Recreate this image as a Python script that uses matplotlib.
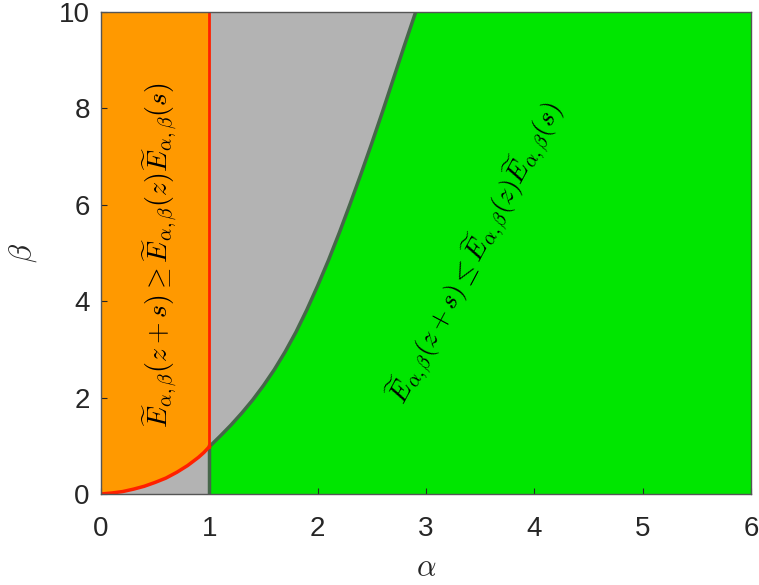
import numpy as np
import matplotlib
matplotlib.use('Agg')
import matplotlib.pyplot as plt

plt.rcParams['mathtext.fontset'] = 'cm'
plt.rcParams['font.family'] = ['Liberation Sans', 'DejaVu Sans']

# curva roja (alpha < 1)
red_a = [0.0, 0.1, 0.2, 0.3, 0.4, 0.5, 0.6, 0.7, 0.8, 0.9, 0.95, 1.0]
red_b = [0.0, 0.02, 0.05, 0.10, 0.16, 0.24, 0.33, 0.45, 0.59, 0.76, 0.86, 0.98]

# frontera de la region verde (alpha > 1)
bnd_a = [1.0, 1.1, 1.2, 1.3, 1.4, 1.5, 1.6, 1.7, 1.8, 1.9, 2.0,
         2.1, 2.2, 2.3, 2.4, 2.5, 2.6, 2.7, 2.8, 2.905]
bnd_b = [0.98, 1.2, 1.43, 1.68, 1.95, 2.25, 2.58, 2.95, 3.36, 3.82, 4.32,
         4.85, 5.42, 6.02, 6.64, 7.28, 7.94, 8.62, 9.30, 10.0]

xmax, ymax = 6, 10
xticks = [0, 1, 2, 3, 4, 5, 6]
yticks = [0, 2, 4, 6, 8, 10]

c_orange = '#ff9900'
c_gray = '#b3b3b3'
c_green = '#00e600'
c_edge = '#46664a'
c_red = '#ff2000'

fig = plt.figure(figsize=(7.59, 5.85), dpi=100)
ax = fig.add_axes([0.133, 0.1556, 0.8565, 0.8239])
ax.set_facecolor(c_gray)

# region naranja
ax.fill(red_a + [1.0, 0.0], red_b + [ymax, ymax], color=c_orange, lw=0, zorder=1)
# region verde
ax.fill([1.0] + bnd_a + [xmax, xmax], [0.0] + bnd_b + [ymax, 0.0],
        color=c_green, lw=0, zorder=1)

ax.plot(bnd_a, bnd_b, color=c_edge, lw=2.5, zorder=3, solid_capstyle='butt')
ax.plot([1, 1], [0, 1], color=c_edge, lw=2.5, zorder=3)
ax.plot(red_a, red_b, color=c_red, lw=2.5, zorder=4)
ax.plot([1, 1], [0.98, ymax], color=c_red, lw=2, zorder=4)

ax.text(0.545, 4.95,
        r'$\widetilde{E}_{\alpha,\beta}(z+s)\geq\widetilde{E}_{\alpha,\beta}(z)\widetilde{E}_{\alpha,\beta}(s)$',
        rotation=90, ha='center', va='center', fontsize=20, zorder=5)
ax.text(3.46, 5.0,
        r'$\widetilde{E}_{\alpha,\beta}(z+s)\leq\widetilde{E}_{\alpha,\beta}(z)\widetilde{E}_{\alpha,\beta}(s)$',
        rotation=62, ha='center', va='center', fontsize=19.5, zorder=5,
        rotation_mode='anchor')

ax.set_xlim(0, xmax)
ax.set_ylim(0, ymax)
ax.set_xticks(xticks)
ax.set_yticks(yticks)
ax.tick_params(direction='in', labelsize=20, colors='#262626', length=4)
ax.tick_params(axis='x', pad=16)
ax.tick_params(axis='y', pad=8)
for s in ax.spines.values():
    s.set_color('#555555')
    s.set_linewidth(1)
    s.set_zorder(6)
ax.set_xlabel(r'$\alpha$', fontsize=22, color='#262626', labelpad=8)
ax.set_ylabel(r'$\beta$', fontsize=22, color='#262626', labelpad=14)

fig.savefig('out.png', dpi=100)
